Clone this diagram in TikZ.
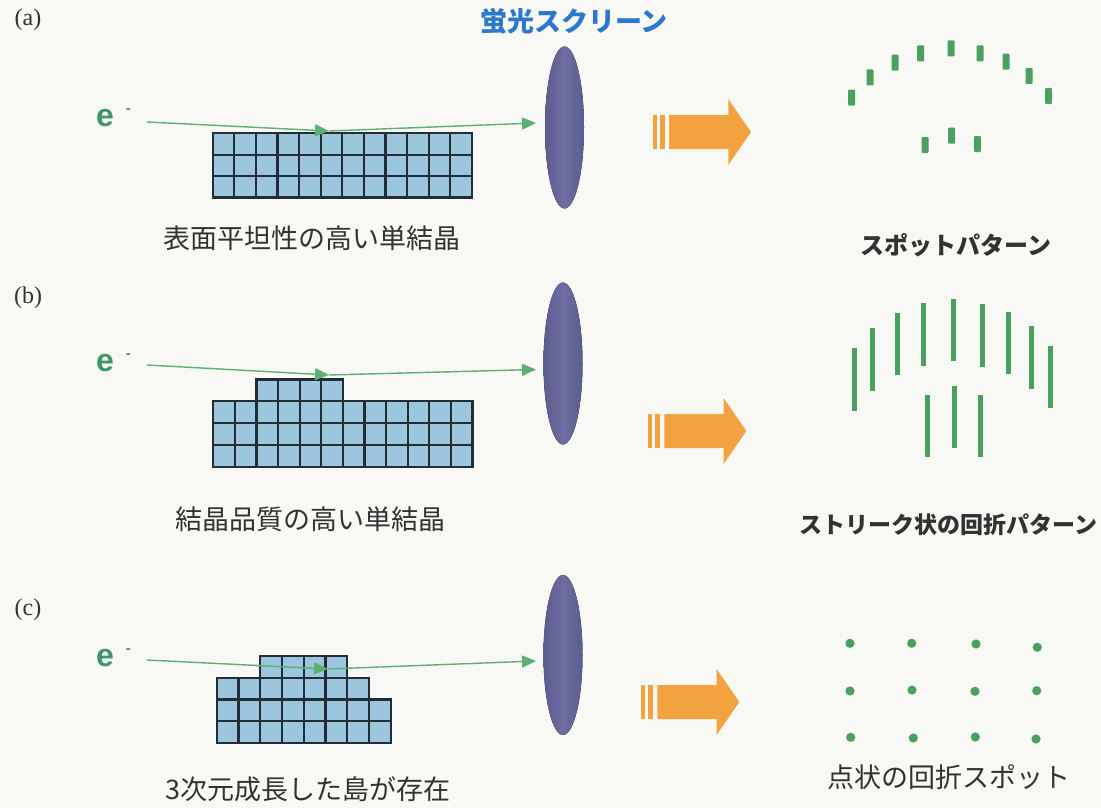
\documentclass[tikz,border=0pt]{standalone}
\usepackage{fontspec}
\setmainfont{Liberation Serif}
\newfontfamily\jp{Noto Sans CJK JP}
\newfontfamily\lat{Liberation Sans}
\usetikzlibrary{arrows.meta}

\definecolor{bgc}{RGB}{248,248,244}
\definecolor{beam}{RGB}{95,175,115}
\definecolor{elec}{RGB}{60,150,105}
\definecolor{spotc}{RGB}{75,160,95}
\definecolor{cellf}{RGB}{155,198,222}
\definecolor{celld}{RGB}{35,45,55}
\definecolor{scredge}{RGB}{92,92,145}
\definecolor{scrmid}{RGB}{110,110,162}
\definecolor{orng}{RGB}{242,162,62}
\definecolor{ttlc}{RGB}{45,120,205}
\definecolor{txtc}{RGB}{50,50,50}

\tikzset{
  cell/.style={fill=cellf, draw=celld, line width=2.2pt},
  beamline/.style={draw=beam, line width=1.4pt, -{Triangle[length=14pt,width=12pt]}},
  screen/.style={left color=scredge, right color=scredge, middle color=scrmid, draw=none},
  streak/.style={draw=spotc, line width=5pt},
  spotrect/.style={fill=spotc, rounded corners=1pt},
  dotspot/.style={fill=spotc},
  bigarrow/.style={fill=orng},
  elabel/.style={inner sep=0pt, anchor=base west, text=elec, font=\lat\bfseries\fontsize{32}{32}\selectfont},
  panel/.style={font=\fontsize{24}{26}\selectfont, text=txtc},
  caption/.style={font=\jp\fontsize{27}{30}\selectfont, text=txtc},
  pattern/.style={font=\jp\bfseries\fontsize{24}{28}\selectfont, text=txtc}
}

\begin{document}
\begin{tikzpicture}[x=1pt,y=-1pt]
\useasboundingbox (0,0) rectangle (1101,808);
\fill[bgc] (0,0) rectangle (1101,808);

% ---------- titles and captions ----------
\node[font=\jp\bfseries\fontsize{27}{30}\selectfont, text=ttlc] (ttl) at (574,21) {蛍光スクリーン};
\node[panel] (pa) at (28,20) {(a)};
\node[panel] (pb) at (28,298) {(b)};
\node[panel] (pc) at (28,610) {(c)};

\node[caption] (capa) at (312,238) {表面平坦性の高い単結晶};
\node[caption] (capb) at (310,519) {結晶品質の高い単結晶};
\node[caption] (capc) at (308,789) {3次元成長した島が存在};

\node[pattern] (pata) at (956,245) {スポットパターン};
\node[pattern, font=\jp\bfseries\fontsize{23}{28}\selectfont, anchor=east] (patb) at (1101,525) {ストリーク状の回折パターン};
\node[caption] (patc) at (949,777) {点状の回折スポット};

% ---------- crystals ----------
% (a) flat single crystal
\foreach \c in {0,...,11} \foreach \r in {0,1,2}
  \draw[cell] (212.7+\c*21.6, 133.3+\r*21.4) rectangle ++(21.6,21.4);
% (b) crystal with a one-layer step
\foreach \c in {0,...,11} \foreach \r in {0,1,2}
  \draw[cell] (213.3+\c*21.6, 401+\r*21.9) rectangle ++(21.6,21.9);
\foreach \c in {2,...,5}
  \draw[cell] (213.3+\c*21.6, 379.4) rectangle ++(21.6,21.6);
% (c) three-dimensional island
\foreach \c in {0,...,7} \foreach \r in {0,1}
  \draw[cell] (216.7+\c*21.75, 699.4+\r*21.65) rectangle ++(21.75,21.65);
\foreach \c in {0,...,6}
  \draw[cell] (216.7+\c*21.75, 677.8) rectangle ++(21.75,21.6);
\foreach \c in {2,...,5}
  \draw[cell] (216.7+\c*21.75, 656.2) rectangle ++(21.75,21.6);

% ---------- fluorescent screens ----------
\fill[screen] (564.5,127.5) ellipse [x radius=19.5pt, y radius=81pt];
\fill[screen] (563,363.5) ellipse [x radius=19.5pt, y radius=81pt];
\fill[screen] (563,655) ellipse [x radius=19.5pt, y radius=80pt];

% ---------- electron beams ----------
\node[elabel] (ea) at (96,126.5) {e\hspace{12pt}\raisebox{13pt}{\fontsize{15}{15}\selectfont -}};
\node[elabel] (eb) at (96,371.5) {e\hspace{12pt}\raisebox{13pt}{\fontsize{15}{15}\selectfont -}};
\node[elabel] (ec) at (96,666) {e\hspace{12pt}\raisebox{13pt}{\fontsize{15}{15}\selectfont -}};

\coordinate (sa) at (147,122);   \coordinate (ra) at (329,131);   \coordinate (ta) at (536,123);
\coordinate (sb) at (147,365);   \coordinate (rb) at (329,375);   \coordinate (tb) at (536,369.5);
\coordinate (sc) at (147,660);   \coordinate (rc) at (328,669);   \coordinate (tc) at (536,661);
\draw[beamline] (sa) -- (ra);  \draw[beamline] (ra) -- (ta);
\draw[beamline] (sb) -- (rb);  \draw[beamline] (rb) -- (tb);
\draw[beamline] (sc) -- (rc);  \draw[beamline] (rc) -- (tc);

% ---------- orange arrows ----------
\foreach \ox/\oy in {652.7/132, 648/431, 641/702} {
  \begin{scope}[shift={(\ox,\oy)}]
    \fill[bigarrow] (0,-17) rectangle (4,17);
    \fill[bigarrow] (7.3,-17) rectangle (12.3,17);
    \fill[bigarrow] (16.3,-17) -- (75.6,-17) -- (75.6,-33) -- (98.3,0)
      -- (75.6,33) -- (75.6,17) -- (16.3,17) -- cycle;
  \end{scope}
}

% ---------- (a) spot pattern ----------
\foreach \x/\y in {851.7/97.7, 870/77.3, 895/62.7, 920.7/53.3, 951/48.3,
                   980/53.3, 1006/61.7, 1029/76, 1048.7/96,
                   925/145, 951.7/135.7, 977.3/144}
  \fill[spotrect] (\x,\y) ++(-3.5,-8) rectangle ++(7,16);

% ---------- (b) streak pattern ----------
\foreach \x/\ya/\yb in {854.3/347.7/410.7, 872.3/328.3/390.7, 897.3/312.7/375,
                        923.3/303.3/365.7, 953.3/299/361, 982.3/304/366.7,
                        1008.3/311.7/374.3, 1031/326/389, 1050.7/346/408.3,
                        927.3/395/456.7, 954/386/448.3, 980/395/456.7}
  \draw[streak] (\x,\ya) -- (\x,\yb);

% ---------- (c) point spots ----------
\foreach \x/\y in {850/643.3, 911.7/643.3, 976/644, 1037.3/647.3,
                   850/691, 912/690, 975/691.3, 1036.7/690.7,
                   850.7/737.3, 913.3/738, 975.3/737, 1036/739}
  \fill[dotspot] (\x,\y) circle[radius=4.6pt];

\end{tikzpicture}
\end{document}
